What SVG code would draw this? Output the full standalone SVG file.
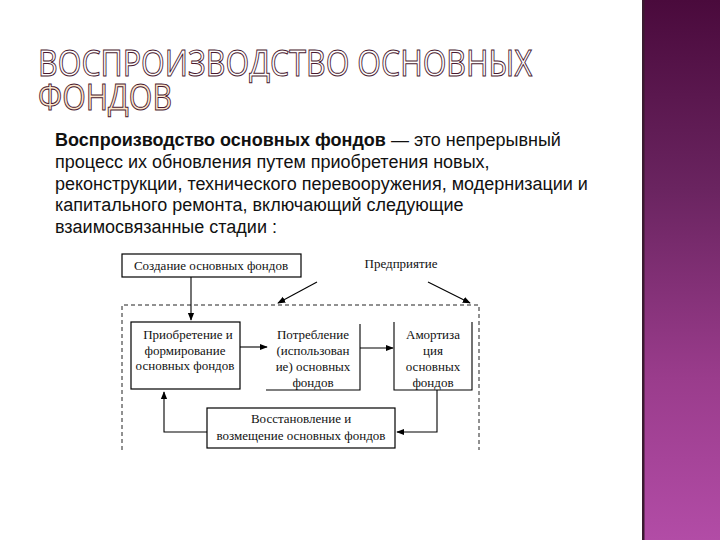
<svg xmlns="http://www.w3.org/2000/svg" width="720" height="540" viewBox="0 0 720 540">
<defs>
<linearGradient id="bar" x1="0" y1="0" x2="0" y2="1">
<stop offset="0" stop-color="#4a0a3c"/>
<stop offset="0.35" stop-color="#6a2460"/>
<stop offset="0.7" stop-color="#9a3c8c"/>
<stop offset="1" stop-color="#b24ca6"/>
</linearGradient>
<marker id="ah" viewBox="0 0 10 10" refX="9" refY="5" markerWidth="8" markerHeight="8" markerUnits="userSpaceOnUse" orient="auto">
<path d="M0,1 L10,5 L0,9 z" fill="#000"/>
</marker>
<style>
.title{font-family:"Open Sans","DejaVu Sans",sans-serif;font-size:36px;fill:#fff;stroke:#4a1a30;stroke-width:1}
.body{font-family:"Liberation Sans",Arial,sans-serif;font-size:18px;fill:#111}
.d{font-family:"Liberation Serif","Times New Roman",serif;font-size:13px;fill:#111;text-anchor:middle}
.box{fill:#fff;stroke:#000;stroke-width:1.2}
.ln{fill:none;stroke:#000;stroke-width:1.1}
.dash{fill:none;stroke:#222;stroke-width:1;stroke-dasharray:4 3}
</style>
</defs>
<rect width="720" height="540" fill="#fff"/>
<rect x="643" y="0" width="77" height="540" fill="url(#bar)"/>
<rect x="642" y="0" width="2.5" height="540" fill="#3a1a30"/>

<g id="title">
<text class="title" x="38" y="76" textLength="494" lengthAdjust="spacingAndGlyphs">ВОСПРОИЗВОДСТВО ОСНОВНЫХ</text>
<text class="title" x="38" y="110" textLength="134" lengthAdjust="spacingAndGlyphs" style="fill:#fde6cc">ФОНДОВ</text>
</g>

<g id="definition" class="body">
<text x="55" y="146"><tspan font-weight="bold">Воспроизводство основных фондов</tspan> — это непрерывный</text>
<text x="55" y="168">процесс их обновления путем приобретения новых,</text>
<text x="55" y="190">реконструкции, технического перевооружения, модернизации и</text>
<text x="55" y="211">капитального ремонта, включающий следующие</text>
<text x="55" y="233">взаимосвязанные стадии :</text>
</g>

<g id="enterprise-frame">
<path class="dash" d="M122,450 V305 H479 V450"/>
</g>

<g id="connectors">
<path class="ln" d="M191,277 V320" marker-end="url(#ah)"/>
<path class="ln" d="M317,282 L278,303" marker-end="url(#ah)"/>
<path class="ln" d="M428,282 L470,303" marker-end="url(#ah)"/>
<path class="ln" d="M240,347 H267" marker-end="url(#ah)"/>
<path class="ln" d="M360,348 H393" marker-end="url(#ah)"/>
<path class="ln" d="M437,390 V432 H397" marker-end="url(#ah)"/>
<path class="ln" d="M207,432 H164 V392" marker-end="url(#ah)"/>
</g>

<g id="creation">
<rect class="box" x="122" y="254" width="179" height="23"/>
<text class="d" x="211" y="270">Создание основных фондов</text>
</g>

<g id="enterprise">
<text class="d" x="401" y="268">Предприятие</text>
</g>

<g id="acquisition">
<rect class="box" x="131" y="322" width="109" height="67"/>
<text class="d" x="188" y="339">Приобретение и</text>
<text class="d" x="185" y="355">формирование</text>
<text class="d" x="185" y="370">основных фондов</text>
</g>

<g id="consumption">
<path class="ln" d="M360,324 V390 H266"/>
<text class="d" x="313" y="339">Потребление</text>
<text class="d" x="313" y="355">(использован</text>
<text class="d" x="313" y="371">ие) основных</text>
<text class="d" x="313" y="387">фондов</text>
</g>

<g id="amortization">
<path class="ln" d="M394,322 V390 H472 V322"/>
<text class="d" x="433" y="339">Амортиза</text>
<text class="d" x="433" y="355">ция</text>
<text class="d" x="433" y="371">основных</text>
<text class="d" x="433" y="387">фондов</text>
</g>

<g id="restoration">
<rect class="box" x="207" y="408" width="188" height="40"/>
<text class="d" x="301" y="423">Восстановление и</text>
<text class="d" x="301" y="440">возмещение основных фондов</text>
</g>
</svg>
